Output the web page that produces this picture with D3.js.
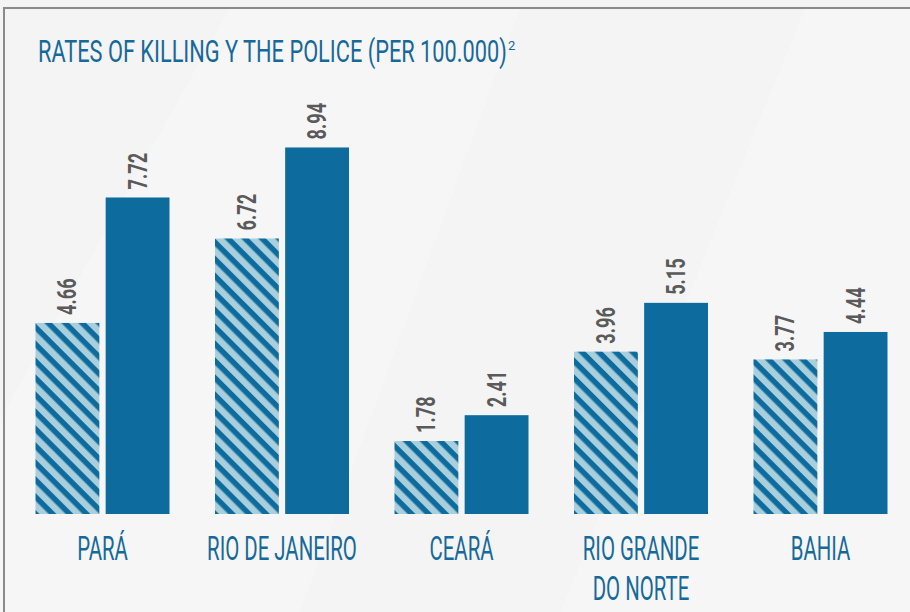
<!DOCTYPE html>
<html>
<head>
<meta charset="utf-8">
<script src="https://cdn.jsdelivr.net/npm/d3@7"></script>
<style>
  body { margin: 0; background: #f4f4f4; }
  svg { display: block; }
</style>
</head>
<body>
<div id="chart"></div>
<script>
var width = 910,
	height = 612;

// data
var categories = [["PARÁ"], ["RIO DE JANEIRO"], ["CEARÁ"], ["RIO GRANDE", "DO NORTE"], ["BAHIA"]];
var series = ["earlier", "later"];
var earlierValues = [4.66, 6.72, 1.78, 3.96, 3.77];
var laterValues = [7.72, 8.94, 2.41, 5.15, 4.44];
var title = "RATES OF KILLING Y THE POLICE (PER 100.000)";
var titleNote = "2";

var blue = "#0e6b9e",
	lightBlue = "#a9cfdc",
	textBlue = "#16699a",
	grey = "#5a5a5a";

var svg = d3.select("#chart").append("svg")
	.attr("width", width)
	.attr("height", height);

// background and faint light bands
svg.append("rect").attr("width", width).attr("height", height).attr("fill", "#f4f4f4");
svg.append("path").attr("d", "M230,8 L520,8 L300,612 L0,612 L0,420 Z").attr("fill", "#fff").attr("opacity", 0.22);
svg.append("path").attr("d", "M805,8 L910,8 L910,612 L560,612 Z").attr("fill", "#fff").attr("opacity", 0.18);

// frame
svg.append("path")
	.attr("d", "M4,612 L4,8 L910,8")
	.attr("fill", "none")
	.attr("stroke", "#8a8a8a")
	.attr("stroke-width", 2);

// hatch pattern
var defs = svg.append("defs");
var pat = defs.append("pattern")
	.attr("id", "hatch")
	.attr("patternUnits", "userSpaceOnUse")
	.attr("width", 12)
	.attr("height", 12)
	.attr("patternTransform", "rotate(45)");
pat.append("rect").attr("width", 12).attr("height", 12).attr("fill", lightBlue);
pat.append("rect").attr("width", 12).attr("height", 5.5).attr("fill", blue);

// title, squeezed to a condensed look
var titleText = svg.append("text")
	.attr("fill", textBlue)
	.style("font-family", "Roboto, 'Liberation Sans', sans-serif")
	.style("font-size", "32px")
	.text(title);
var titleLen = titleText.node().getComputedTextLength();
titleText.attr("transform", "translate(38,62) scale(" + (469 / titleLen) + ",1)");

svg.append("text")
	.attr("x", 508)
	.attr("y", 50)
	.attr("fill", textBlue)
	.style("font-family", "Roboto, 'Liberation Sans', sans-serif")
	.style("font-size", "13px")
	.text(titleNote);

// scales
var x0 = d3.scalePoint()
	.domain(d3.range(categories.length))
	.range([102.5, 820.5]);

var x1 = d3.scaleBand()
	.domain(series)
	.range([-67, 67])
	.paddingInner(0.09);

var y = d3.scaleLinear()
	.domain([0, 10])
	.range([514, 104]);

var rows = categories.map(function(c, i) {
	return { i: i, label: c, values: [
		{ key: "earlier", v: earlierValues[i] },
		{ key: "later", v: laterValues[i] }
	]};
});

var group = svg.selectAll(".group")
	.data(rows)
	.enter()
	.append("g")
	.attr("class", "group")
	.attr("transform", function(d) { return "translate(" + x0(d.i) + ",0)"; });

group.selectAll("rect")
	.data(function(d) { return d.values; })
	.enter()
	.append("rect")
	.attr("x", function(d) { return x1(d.key); })
	.attr("y", function(d) { return y(d.v); })
	.attr("width", x1.bandwidth())
	.attr("height", function(d) { return y(0) - y(d.v); })
	.attr("fill", function(d) { return d.key === "earlier" ? "url(#hatch)" : blue; });

// value labels, rotated
group.selectAll(".val")
	.data(function(d) { return d.values; })
	.enter()
	.append("text")
	.attr("class", "val")
	.attr("transform", function(d) {
		return "translate(" + (x1(d.key) + x1.bandwidth() / 2 + 9) + "," + (y(d.v) - 8) + ") rotate(-90) scale(0.7,1)";
	})
	.attr("fill", grey)
	.style("font-family", "Roboto, 'Liberation Sans', sans-serif")
	.style("font-weight", "bold")
	.style("font-size", "26px")
	.text(function(d) { return d.v.toFixed(2); });

// category labels
group.each(function(d) {
	var g = d3.select(this);
	d.label.forEach(function(line, k) {
		g.append("text")
			.attr("transform", "translate(0," + (560 + k * 40) + ") scale(0.6,1)")
			.attr("text-anchor", "middle")
			.attr("fill", textBlue)
			.style("font-family", "Roboto, 'Liberation Sans', sans-serif")
			.style("font-size", "34px")
			.text(line);
	});
});
</script>
</body>
</html>
